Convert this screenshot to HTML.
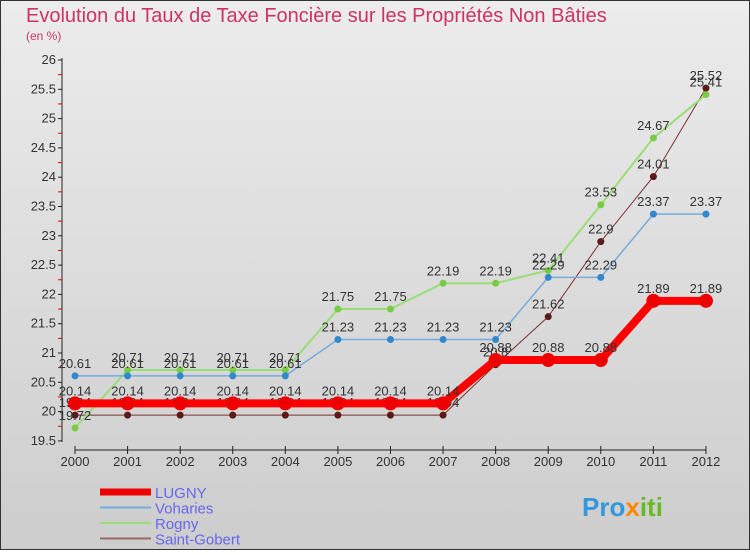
<!DOCTYPE html>
<html><head><meta charset="utf-8"><style>
body{margin:0;width:750px;height:550px;overflow:hidden;font-family:"Liberation Sans",sans-serif}
svg text{font-family:"Liberation Sans",sans-serif}
</style></head><body>
<svg id="c" width="750" height="550" xmlns="http://www.w3.org/2000/svg">
<defs><linearGradient id="bg" x1="0" y1="0" x2="0" y2="1"><stop offset="0" stop-color="#ececec"/><stop offset="1" stop-color="#cdcdcd"/></linearGradient></defs>
<rect x="0.5" y="0.5" width="749" height="549" fill="url(#bg)" stroke="#333"/>
<text x="26" y="22" font-size="20" fill="#cc3366">Evolution du Taux de Taxe Foncière sur les Propriétés Non Bâties</text>
<text x="26" y="40" font-size="12" fill="#cc3366">(en %)</text>
<g id="axes"></g><g id="series"></g><g id="legend"></g>
<text x="582" y="516" font-size="26" font-weight="bold" fill="#3399dd">Pro<tspan fill="#ff8800">x</tspan><tspan fill="#66bb22">iti</tspan></text>
</svg>
<script>
const years=[2000,2001,2002,2003,2004,2005,2006,2007,2008,2009,2010,2011,2012];
const lugny=[20.14,20.14,20.14,20.14,20.14,20.14,20.14,20.14,20.88,20.88,20.88,21.89,21.89];
const voharies=[20.61,20.61,20.61,20.61,20.61,21.23,21.23,21.23,21.23,22.29,22.29,23.37,23.37];
const rogny=[19.72,20.71,20.71,20.71,20.71,21.75,21.75,22.19,22.19,22.41,23.53,24.67,25.41];
const saintGobert=[19.94,19.94,19.94,19.94,19.94,19.94,19.94,19.94,20.8,21.62,22.9,24.01,25.52];
const yTicks=[19.5,20,20.5,21,21.5,22,22.5,23,23.5,24,24.5,25,25.5,26];
const NS="http://www.w3.org/2000/svg";
const X=i=>75+i*52.58, Y=v=>60+(26-v)*58.6;
function mk(p,t,a){const e=document.createElementNS(NS,t);for(const k in a)e.setAttribute(k,a[k]);p.appendChild(e);return e;}
const ax=document.getElementById('axes');
let l=mk(ax,'line',{x1:62,y1:58,x2:62,y2:442,stroke:'#222'});


yTicks.forEach((v,i)=>{
 mk(ax,'line',{x1:58,x2:62,y1:Y(v),y2:Y(v),stroke:'#222'});
 if(i<yTicks.length-1) mk(ax,'line',{x1:58,x2:62,y1:Y(v+0.25),y2:Y(v+0.25),stroke:'#e00'});
 const t=mk(ax,'text',{x:56,y:Y(v)+4,'font-size':13,'text-anchor':'end',fill:'#333'});
 t.textContent=v;
 
 
});
l=mk(ax,'line',{x1:X(0),y1:450,x2:X(12),y2:450,stroke:'#222'});


years.forEach((y,i)=>{
 mk(ax,'line',{x1:X(i),x2:X(i),y1:446,y2:454,stroke:'#222'});
 const t=mk(ax,'text',{x:X(i),y:466,'font-size':13,'text-anchor':'middle',fill:'#333'});
 t.textContent=y;
 
 
});
const sg=document.getElementById('series');
const defs=[
 {n:'saint-gobert',d:saintGobert,c:'#7a3030',p:'#5a1a1a',w:1,r:3.5},
 {n:'rogny',d:rogny,c:'#99dd77',p:'#77cc44',w:2,r:3.5},
 {n:'voharies',d:voharies,c:'#77aadd',p:'#3388cc',w:1.5,r:3.5},
 {n:'lugny',d:lugny,c:'#ff0000',p:'#ee0000',w:8,r:7}];
defs.forEach(s=>{
 const g=mk(sg,'g',{});
 
 
 const pl=mk(g,'polyline',{points:s.d.map((v,i)=>X(i)+','+Y(v)).join(' '),fill:'none',stroke:s.c,'stroke-width':s.w});
 
 
 s.d.forEach((v,i)=>{
  const c=mk(g,'circle',{cx:X(i),cy:Y(v),r:s.r,fill:s.p});
  
  
  const t=mk(g,'text',{x:X(i),y:Y(v)-8,'font-size':13,'text-anchor':'middle',fill:'#333'});
  t.textContent=v;
  
  
 });
});
const lg=document.getElementById('legend');
[['LUGNY','#ee0000',7],['Voharies','#77aadd',2],['Rogny','#99dd77',2],['Saint-Gobert','#9a6a6a',2]].forEach((e,i)=>{
 const y=492+i*15.5;
 const g=mk(lg,'g',{});
 
 
 mk(g,'line',{x1:100,x2:151,y1:y,y2:y,stroke:e[1],'stroke-width':e[2]});
 const t=mk(g,'text',{x:155,y:y+6,'font-size':15,fill:'#6666ee'});
 t.textContent=e[0];
});
</script>
</body></html>
